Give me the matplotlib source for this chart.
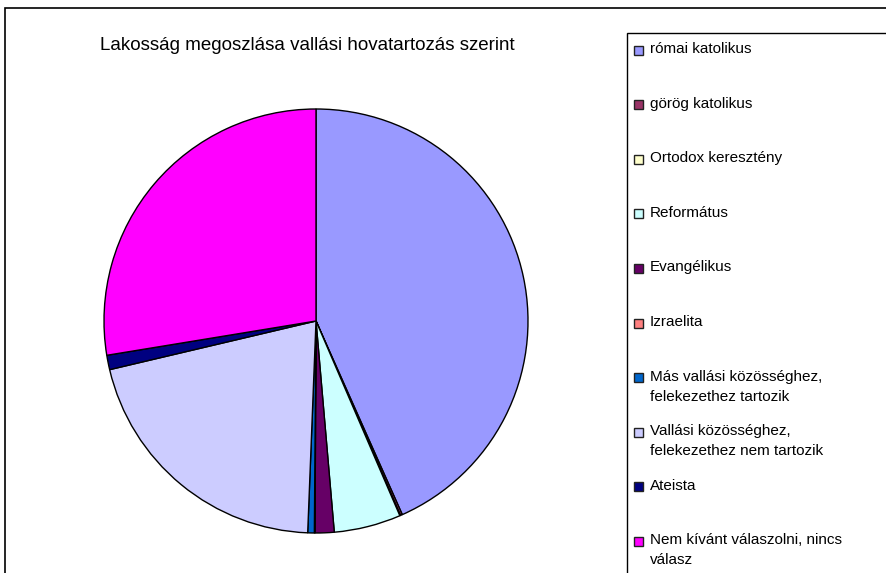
import matplotlib
matplotlib.use("Agg")
import matplotlib.pyplot as plt
from matplotlib.patches import Rectangle

# Adatok
kategoriak = [
    "római katolikus",
    "görög katolikus",
    "Ortodox keresztény",
    "Református",
    "Evangélikus",
    "Izraelita",
    "Más vallási közösséghez,\nfelekezethez tartozik",
    "Vallási közösséghez,\nfelekezethez nem tartozik",
    "Ateista",
    "Nem kívánt válaszolni, nincs\nválasz",
]
ertekek = [43.35, 0.15, 0.05, 5.1, 1.45, 0.05, 0.5, 20.7, 1.1, 27.6]
szinek = ["#9999FF", "#993366", "#FFFFCC", "#CCFFFF", "#660066",
          "#FF8080", "#0066CC", "#CCCCFF", "#000080", "#FF00FF"]
cim = "Lakosság megoszlása vallási hovatartozás szerint"

W, H = 887, 573
plt.rcParams['font.family'] = ['Liberation Sans', 'DejaVu Sans']

fig = plt.figure(figsize=(W / 100, H / 100), dpi=100)
fig.patch.set_facecolor("white")

# kulso keret
fig.patches.append(Rectangle((5 / W, -0.05), 1.0, 1 - 8 / H + 0.05,
                             transform=fig.transFigure, fill=False,
                             edgecolor="black", linewidth=1.2))

# kor diagram
ax = fig.add_axes([104 / W, 1 - 533 / H, 424 / W, 424 / H])
ax.pie(ertekek, colors=szinek, startangle=90, counterclock=False,
       wedgeprops=dict(edgecolor="black", linewidth=1.0))
ax.set_xlim(-1, 1)
ax.set_ylim(-1, 1)
ax.set_aspect("equal")
ax.axis("off")

fig.text(307 / W, 1 - 46 / H, cim, ha="center", va="center", fontsize=13.5)

# jelmagyarazat
fig.patches.append(Rectangle((627 / W, -0.05), 1.0, 1 - 33 / H + 0.05,
                             transform=fig.transFigure, fill=False,
                             edgecolor="black", linewidth=1.0))
y0 = 50
lepes = 54.6
for i, (nev, szin) in enumerate(zip(kategoriak, szinek)):
    y = y0 + i * lepes
    fig.patches.append(Rectangle((634 / W, 1 - (y + 4.5) / H), 9 / W, 9 / H,
                                 transform=fig.transFigure, facecolor=szin,
                                 edgecolor="#222222", linewidth=1.0))
    fig.text(650 / W, 1 - (y - 8) / H, nev, ha="left", va="top",
             fontsize=11, linespacing=1.55)

fig.savefig("out.png", dpi=100)
